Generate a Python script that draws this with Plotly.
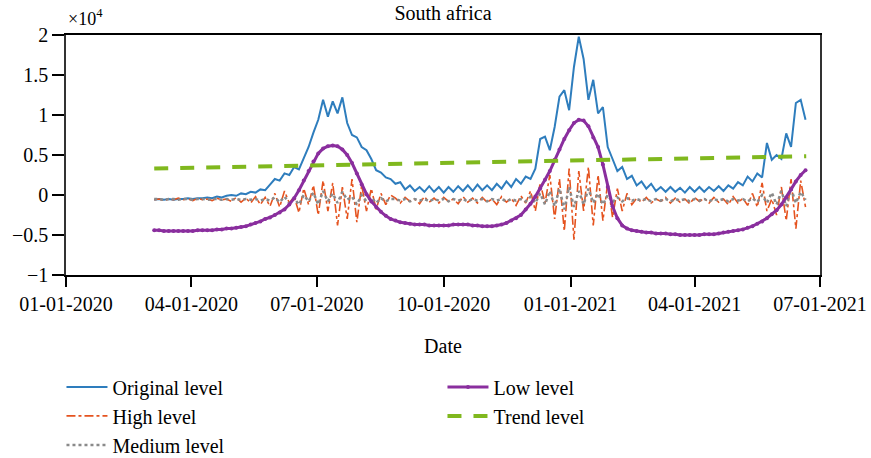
import pandas as pd
import plotly.graph_objects as go

# Sampling: twice a week from 2020-03-05
start_date = "2020-03-05"
n_points = 136
dates = pd.date_range(start_date, periods=n_points, freq="84h")

original_level = [
    -0.06, -0.05, -0.06, -0.05, -0.06, -0.05, -0.05, -0.04, -0.05, -0.04, -0.04, -0.03, -0.04, -0.02, -0.03,
    -0.01, 0.0, -0.01, 0.02, 0.01, 0.04, 0.03, 0.07, 0.06, 0.13,
    0.2, 0.18, 0.27, 0.25, 0.35, 0.32, 0.47, 0.6, 0.78, 0.94, 1.19, 0.98, 1.17, 1.02, 1.22, 0.9, 0.75, 0.72,
    0.6, 0.56, 0.45, 0.31, 0.28, 0.22, 0.2,
    0.14, 0.16, 0.07, 0.12, 0.05, 0.1, 0.04, 0.11, 0.04, 0.1, 0.03, 0.1, 0.04, 0.11, 0.05, 0.12, 0.05, 0.13,
    0.06, 0.12, 0.06, 0.14, 0.08, 0.17, 0.1, 0.2, 0.14, 0.23,
    0.2, 0.33, 0.7, 0.73, 0.56, 0.85, 1.23, 1.31, 1.06, 1.6, 1.98, 1.7, 1.19, 1.44, 1.02, 1.1, 0.6, 0.45,
    0.3, 0.35, 0.2, 0.24,
    0.12, 0.17, 0.08, 0.14, 0.05, 0.1, 0.04, 0.1, 0.04, 0.09, 0.03, 0.1, 0.04, 0.1, 0.04, 0.1, 0.05, 0.11,
    0.05, 0.12, 0.08, 0.16, 0.12, 0.23, 0.17, 0.27,
    0.22, 0.65, 0.44, 0.5, 0.45, 0.77, 0.6, 1.15, 1.19, 0.94,
]

high_level = [
    -0.06, -0.05, -0.07, -0.05, -0.06, -0.04, -0.06, -0.05, -0.07, -0.04, -0.06, -0.05, -0.07, -0.04, -0.06,
    -0.05, -0.08, -0.03, -0.09, -0.04, -0.1, -0.02, -0.12, -0.03, -0.14,
    0.02, -0.15, 0.05, -0.1, -0.02, -0.22, 0.08, -0.12, 0.12, -0.25, 0.18, -0.2, 0.15, -0.38, 0.1, -0.3,
    0.2, -0.34, 0.12, -0.2, 0.08, -0.18, 0.02, -0.12, 0.0,
    -0.04, -0.1, -0.03, -0.08, -0.05, -0.11, -0.02, -0.09, -0.04, -0.1, -0.03, -0.08, -0.05, -0.11, -0.02,
    -0.09, -0.04, -0.1, -0.03, -0.09, -0.05, -0.12, -0.02, -0.09, -0.04, -0.13, -0.01, -0.1,
    0.05, -0.2, 0.15, -0.1, 0.25, -0.3, 0.2, -0.45, 0.33, -0.56, 0.3, -0.2, 0.35, -0.38, 0.25, -0.32, 0.15,
    -0.28, 0.08, -0.2, 0.02, -0.12,
    -0.04, -0.09, -0.03, -0.1, -0.05, -0.08, -0.03, -0.1, -0.04, -0.09, -0.05, -0.11, -0.03, -0.08, -0.04,
    -0.1, -0.03, -0.09, -0.05, -0.12, -0.02, -0.1, -0.04, -0.13, 0.02, -0.15,
    0.15, -0.2, -0.05, -0.25, 0.1, -0.32, 0.2, -0.42, 0.18, -0.15,
]

medium_level = [
    -0.05, -0.05, -0.06, -0.05, -0.05, -0.06, -0.05, -0.05, -0.06, -0.05, -0.05, -0.06, -0.05, -0.05, -0.06,
    -0.05, -0.06, -0.05, -0.06, -0.05, -0.06, -0.05, -0.07, -0.05, -0.07,
    -0.03, -0.09, -0.02, -0.1, -0.04, -0.12, 0.0, -0.08, 0.03, -0.12, 0.05, -0.08, 0.02, -0.1, 0.04, -0.06,
    -0.02, -0.12, 0.0, -0.08, -0.03, -0.1, -0.04, -0.08, -0.05,
    -0.05, -0.07, -0.05, -0.08, -0.05, -0.07, -0.05, -0.08, -0.05, -0.07, -0.05, -0.08, -0.05, -0.07, -0.05,
    -0.08, -0.05, -0.07, -0.05, -0.08, -0.05, -0.07, -0.05, -0.08, -0.05, -0.07, -0.05, -0.08,
    -0.02, -0.1, 0.02, -0.12, 0.05, -0.14, 0.08, -0.18, 0.1, -0.15, 0.05, -0.12, 0.08, -0.1, 0.02, -0.12,
    0.0, -0.09, -0.03, -0.08, -0.04, -0.07,
    -0.05, -0.07, -0.05, -0.08, -0.05, -0.07, -0.05, -0.08, -0.05, -0.07, -0.05, -0.08, -0.05, -0.07, -0.05,
    -0.08, -0.05, -0.07, -0.05, -0.08, -0.05, -0.07, -0.05, -0.08, -0.04, -0.09,
    0.0, -0.1, 0.03, -0.12, 0.05, -0.14, 0.08, -0.1, 0.04, -0.06,
]

low_level = [
    -0.44, -0.44, -0.45, -0.45, -0.45, -0.45, -0.45, -0.45, -0.45, -0.44,
    -0.44, -0.44, -0.44, -0.43, -0.43, -0.42, -0.42, -0.41, -0.40, -0.39,
    -0.37, -0.35, -0.33, -0.30, -0.28, -0.25, -0.22, -0.18, -0.12, -0.04,
    0.06, 0.18, 0.30, 0.42, 0.52, 0.58, 0.61, 0.62, 0.61, 0.57,
    0.50, 0.40, 0.27, 0.13, 0.01, -0.08, -0.15, -0.21, -0.26, -0.30,
    -0.32, -0.34, -0.35, -0.36, -0.37, -0.37, -0.37, -0.38, -0.38, -0.38,
    -0.38, -0.38, -0.37, -0.37, -0.37, -0.37, -0.38, -0.38, -0.39, -0.39,
    -0.39, -0.38, -0.37, -0.35, -0.32, -0.29, -0.25, -0.18, -0.11, -0.02,
    0.08, 0.19, 0.30, 0.44, 0.57, 0.70, 0.81, 0.90, 0.94, 0.93,
    0.86, 0.72, 0.60, 0.38, 0.10, -0.14, -0.29, -0.38, -0.42, -0.44,
    -0.45, -0.46, -0.47, -0.47, -0.48, -0.48, -0.48, -0.49, -0.49, -0.50,
    -0.50, -0.50, -0.50, -0.50, -0.49, -0.49, -0.49, -0.48, -0.47, -0.46,
    -0.45, -0.44, -0.43, -0.41, -0.39, -0.36, -0.33, -0.29, -0.24, -0.19,
    -0.12, -0.03, 0.07, 0.17, 0.25, 0.31,
]

trend_dates = ["2020-03-05", "2020-04-01", "2020-05-01", "2020-06-01", "2020-07-01", "2020-08-01",
               "2020-09-01", "2020-10-01", "2020-11-01", "2020-12-01", "2021-01-01", "2021-02-01",
               "2021-03-01", "2021-04-01", "2021-05-01", "2021-06-01", "2021-06-21"]
trend_level = [0.33, 0.34, 0.35, 0.36, 0.37, 0.38, 0.39, 0.40, 0.41, 0.42, 0.43, 0.44,
               0.45, 0.46, 0.47, 0.48, 0.485]

x_tick_vals = ["2020-01-01", "2020-04-01", "2020-07-01", "2020-10-01",
               "2021-01-01", "2021-04-01", "2021-07-01"]
x_tick_text = ["01-01-2020", "04-01-2020", "07-01-2020", "10-01-2020",
               "01-01-2021", "04-01-2021", "07-01-2021"]
y_tick_vals = [-1, -0.5, 0, 0.5, 1, 1.5, 2]
y_tick_text = ["\u22121", "\u22120.5", "0", "0.5", "1", "1.5", "2"]

FONT = "Liberation Serif"

fig = go.Figure()
fig.add_trace(go.Scatter(x=dates, y=original_level, mode="lines", name="Original level",
                         line=dict(color="#2e7dbd", width=2), legendrank=1))
fig.add_trace(go.Scatter(x=dates, y=high_level, mode="lines", name="High level",
                         line=dict(color="#e5531f", width=1.6, dash="dashdot"), legendrank=3))
fig.add_trace(go.Scatter(x=dates, y=medium_level, mode="lines", name="Medium level",
                         line=dict(color="#8a8a8a", width=2.5, dash="dot"), legendrank=5))
fig.add_trace(go.Scatter(x=dates, y=low_level, mode="lines+markers", name="Low level",
                         line=dict(color="#8a2e9e", width=3), marker=dict(size=4, color="#8a2e9e"),
                         legendrank=2))
fig.add_trace(go.Scatter(x=trend_dates, y=trend_level, mode="lines", name="Trend level",
                         line=dict(color="#80b81e", width=4, dash="14px,12px"), legendrank=4))

fig.update_layout(
    width=871, height=458,
    margin=dict(l=66, r=51, t=35, b=183, autoexpand=False),
    paper_bgcolor="white", plot_bgcolor="white",
    font=dict(family=FONT, size=20, color="black"),
    title=dict(text="South africa", x=0.5, xref="paper", xanchor="center",
               y=0.972, yanchor="middle", font=dict(family=FONT, size=20)),
    showlegend=True,
    legend=dict(orientation="h", x=-0.006, xanchor="left", y=-0.385, yanchor="top",
                entrywidth=325, entrywidthmode="pixels", font=dict(family=FONT, size=20),
                bgcolor="rgba(0,0,0,0)", itemwidth=41, tracegroupgap=0),
    xaxis=dict(type="date", range=["2020-01-01", "2021-07-01"], tickvals=x_tick_vals,
               ticktext=x_tick_text, ticks="outside", ticklen=10, tickwidth=1.5,
               tickcolor="black", showline=True, linecolor="black", linewidth=1.5,
               mirror=True, showgrid=False, zeroline=False,
               title=dict(text="Date", standoff=25, font=dict(family=FONT, size=20))),
    yaxis=dict(range=[-1, 2], tickvals=y_tick_vals, ticktext=y_tick_text, ticks="outside",
               ticklen=12, tickwidth=1.5, tickcolor="black", showline=True, linecolor="#333",
               linewidth=1.5, mirror=True, showgrid=False, zeroline=False),
    annotations=[dict(text="\u00d710<sup>4</sup>", x=0.0, xref="paper", xanchor="left",
                      y=1.0, yref="paper", yanchor="bottom", yshift=4, showarrow=False,
                      font=dict(family=FONT, size=18))],
)

fig.write_html("out.html", config={"displayModeBar": False},
               post_script="document.body.style.margin='0px';document.body.style.overflow='hidden';")
